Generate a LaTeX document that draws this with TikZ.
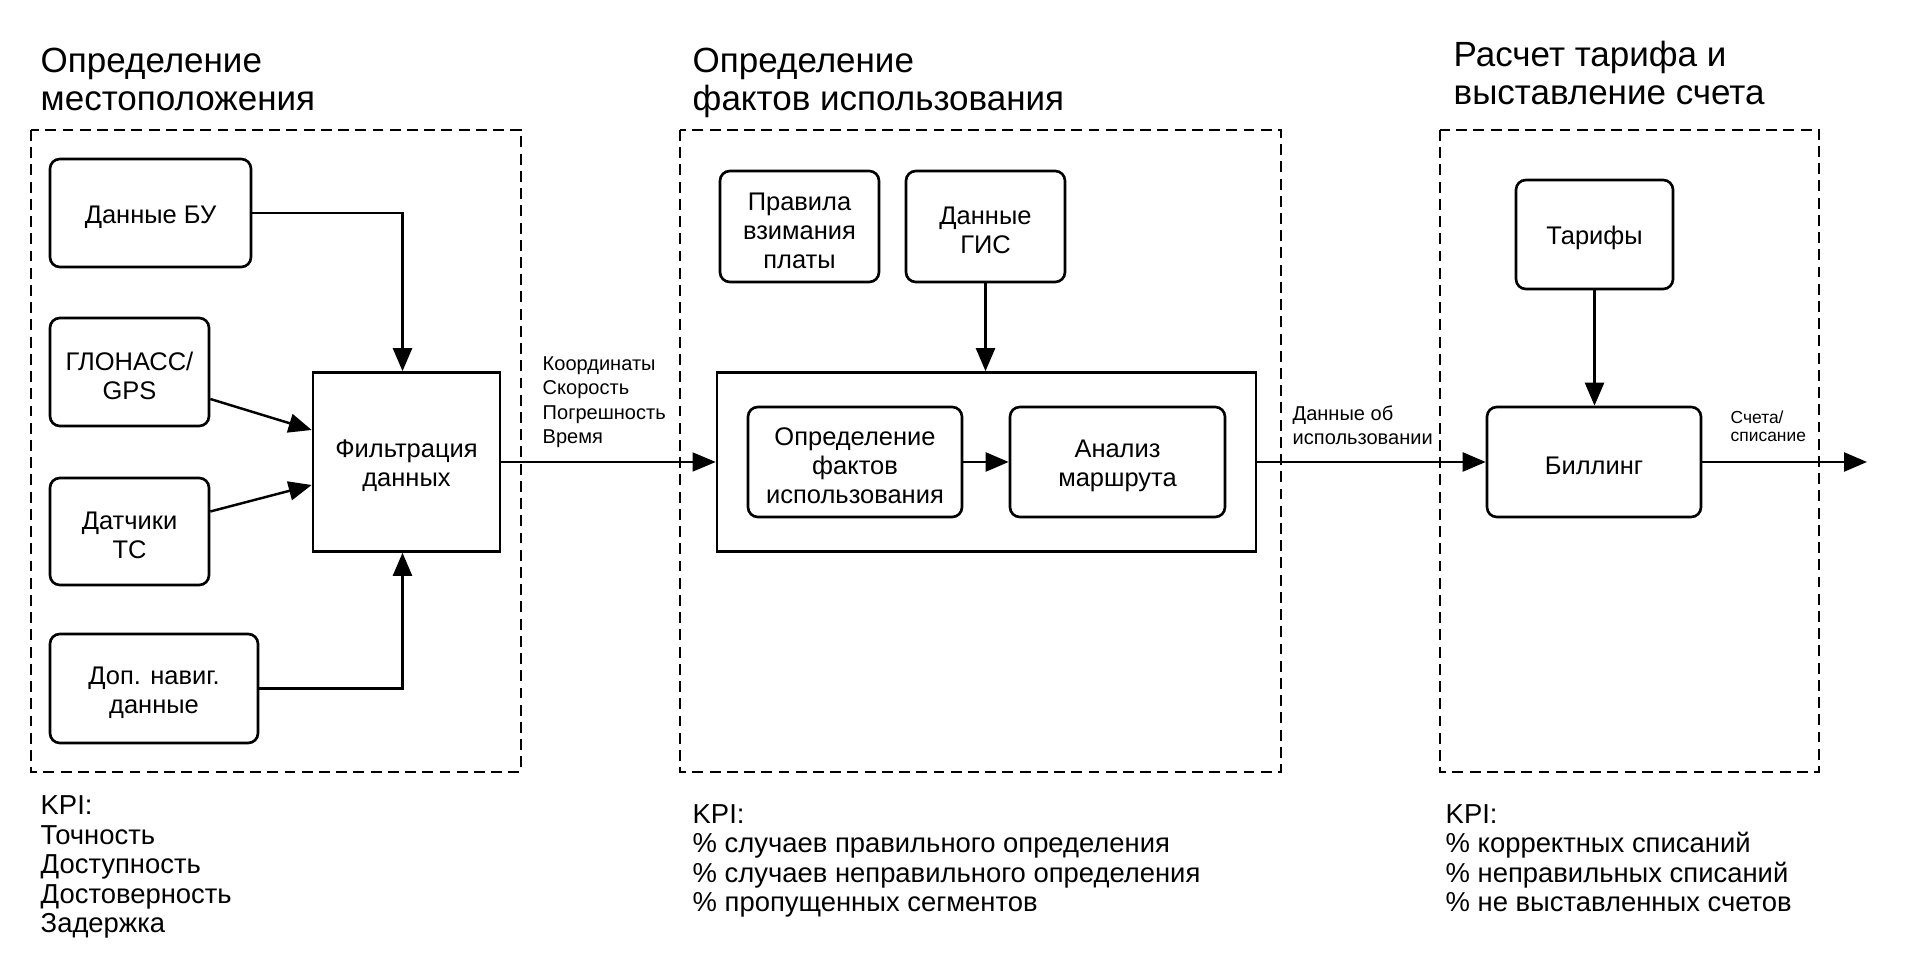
\documentclass[tikz,border=0pt]{standalone}
\usepackage{fontspec}
\setmainfont{Liberation Sans}
\usetikzlibrary{arrows.meta}

\begin{document}
\begin{tikzpicture}[
	nl/.style={execute at begin node={\rule{0pt}{\dimexpr 7.4pt+8.25pt*(#1-1)\relax}}},
	rbox/.style={draw, line width=0.75pt, rounded corners=2.8pt, align=center, inner sep=1pt, font=\fontsize{7.25}{8.25}\selectfont, nl=1},
	sbox/.style={rbox, rounded corners=0pt},
	zone/.style={line width=0.65pt, dash pattern=on 3.1pt off 1.8pt},
	arr/.style={line width=0.7pt, -{Triangle[length=0.23cm, width=0.19cm]}},
	ttl/.style={anchor=base west, align=left, inner sep=0pt, font={\fontsize{9.96}{10.9}\selectfont}},
	kpi/.style={anchor=base west, align=left, inner sep=0pt, font={\fontsize{7.8}{8.4}\selectfont\lineskiplimit-5pt\relax}},
	lbl/.style={anchor=base west, align=left, inner sep=0pt, font=\fontsize{5.7}{7}\selectfont}]
				\useasboundingbox (0, 0) rectangle (19.2, -9.74);
				\draw[zone] (0.31, -1.30) rectangle (5.21, -7.72);
				\draw[zone] (6.80, -1.30) rectangle (12.81, -7.72);
				\draw[zone] (14.40, -1.30) rectangle (18.19, -7.72);
				\node[ttl] (H1) at (0.40, -1.105) {Определение\\местоположения};
				\node[ttl] (H2) at (6.92, -1.105) {Определение\\фактов использования};
				\node[ttl] (H3) at (14.53, -1.045) {Расчет тарифа и\\выставление счета};
				\node[rbox, minimum width=2.01cm, minimum height=1.08cm] (BU) at (1.505, -2.13) {Данные БУ};
				\node[rbox, nl=2, minimum width=1.59cm, minimum height=1.08cm] (GL) at (1.295, -3.72) {ГЛОНАСС/\\GPS};
				\node[rbox, nl=2, minimum width=1.59cm, minimum height=1.07cm] (TS) at (1.295, -5.315) {Датчики\\ТС};
				\node[rbox, nl=2, minimum width=2.08cm, minimum height=1.09cm] (DN) at (1.54, -6.885) {Доп. навиг.\\данные};
				\node[sbox, nl=2, minimum width=1.87cm, minimum height=1.79cm] (F) at (4.065, -4.62) {Фильтрация\\данных};
				\node[rbox, nl=3, minimum width=1.59cm, minimum height=1.11cm] (PR) at (7.995, -2.265) {Правила\\взимания\\платы};
				\node[rbox, nl=2, minimum width=1.59cm, minimum height=1.11cm] (GIS) at (9.855, -2.265) {Данные\\ГИС};
				\node[sbox, minimum width=5.39cm, minimum height=1.79cm] (U) at (9.865, -4.62) {};
				\node[rbox, nl=3, minimum width=2.14cm, minimum height=1.10cm] (OF) at (8.55, -4.62) {Определение\\фактов\\использования};
				\node[rbox, nl=2, minimum width=2.15cm, minimum height=1.10cm] (AM) at (11.175, -4.62) {Анализ\\маршрута};
				\node[rbox, minimum width=1.57cm, minimum height=1.09cm] (T) at (15.945, -2.345) {Тарифы};
				\node[rbox, minimum width=2.14cm, minimum height=1.10cm] (B) at (15.94, -4.62) {Биллинг};
				\coordinate (OUT) at (18.67, -4.62);
				\draw[arr] (BU.east) -| ([xshift=-0.04cm]F.north);
				\draw[arr] ([yshift=-0.27cm]GL.east) -- ([yshift=0.32cm]F.west);
				\draw[arr] ([yshift=0.20cm]TS.east) -- ([yshift=-0.23cm]F.west);
				\draw[arr] (DN.east) -| ([xshift=-0.04cm]F.south);
				\draw[arr, line width=0.37pt] (F.east) -- (U.west);
				\draw[arr] (GIS.south) -- (GIS.south |- U.north);
				\draw[arr] (OF.east) -- (AM.west);
				\draw[arr] (U.east) -- (B.west);
				\draw[arr] (T.south) -- (T.south |- B.north);
				\draw[arr] (B.east) -- (OUT);
				\node[lbl] (L1) at (5.42, -4.44) {Координаты\\Скорость\\Погрешность\\Время};
				\node[lbl] (L2) at (12.92, -4.45) {Данные об\\использовании};
				\node[lbl, font=\fontsize{4.95}{5.4}\selectfont] (L3) at (17.30, -4.42) {Счета/\\списание};
				\node[kpi] (K1) at (0.40, -9.33) {KPI:\\Точность\\Доступность\\Достоверность\\Задержка};
				\node[kpi] (K2) at (6.92, -9.12) {KPI:\\\% случаев правильного определения\\\% случаев неправильного определения\\\% пропущенных сегментов};
				\node[kpi] (K3) at (14.45, -9.12) {KPI:\\\% корректных списаний\\\% неправильных списаний\\\% не выставленных счетов};
			\end{tikzpicture}
\end{document}
